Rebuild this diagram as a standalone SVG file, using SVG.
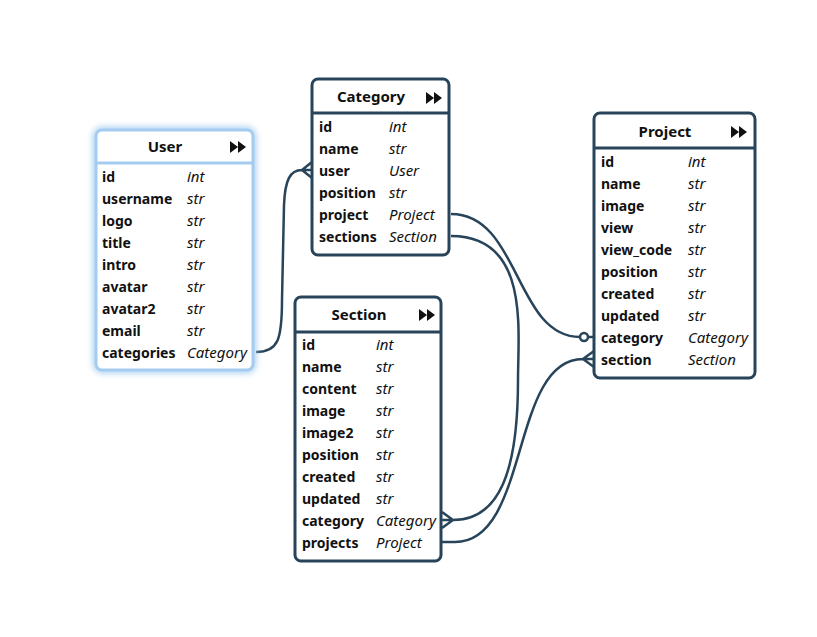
<svg xmlns="http://www.w3.org/2000/svg" width="817" height="637" viewBox="0 0 817 637">
<defs>
<style>
.box{fill:#ffffff;stroke:#27445a;stroke-width:3}
.sep{stroke:#27445a;stroke-width:3}
.sel{fill:#ffffff;stroke:#a3ccf0;stroke-width:3}
.selsep{stroke:#a3ccf0;stroke-width:3}
.title{font-family:"Noto Sans","Open Sans",sans-serif;font-size:15px;font-weight:bold;fill:#111111;text-anchor:middle}
.f{font-family:"Noto Sans","Open Sans",sans-serif;font-size:14px;font-weight:bold;fill:#111111}
.t{font-family:"Noto Sans","Open Sans",sans-serif;font-size:15px;font-style:italic;fill:#111111}
.icon{fill:#111111}
.conn{fill:none;stroke:#27445a;stroke-width:2.5}
</style>
<filter id="glow" x="-20%" y="-20%" width="140%" height="140%">
<feGaussianBlur stdDeviation="3"/>
</filter>
</defs>
<rect width="817" height="637" fill="#ffffff"/>

<g id="connectors">
<path class="conn" d="M256,352 C278,352 282,340 282,300 L284,205 C285,180 290,170 302,170 L312,170 M302,170 L312,162 M302,170 L312,178"/>
<path class="conn" d="M451,214 C520,214 515,337 580,337"/>
<circle cx="584" cy="337" r="4" fill="#ffffff" stroke="#27445a" stroke-width="2.5"/>
<path class="conn" d="M588,337 L594,337"/>
<path class="conn" d="M451,236 C530,236 518,330 518,380 C518,470 500,520 453,520 L442,520 M453,520 L442,512 M453,520 L442,528"/>
<path class="conn" d="M442,542 L455,542 C530,542 510,359 583,359 L594,359 M583,359 L594,351 M583,359 L594,367"/>
</g>

<g id="user">
<rect x="96" y="130" width="157" height="240" rx="6" fill="none" stroke="#a3ccf0" stroke-width="6" filter="url(#glow)"/>
<rect class="sel" x="96" y="130" width="157" height="240" rx="6"/>
<line class="selsep" x1="96" y1="163" x2="253" y2="163"/>
<text class="title" x="165" y="152">User</text>
<polygon class="icon" points="230,141 238,147 230,153"/>
<polygon class="icon" points="238,141 246,147 238,153"/>
<text class="f" x="102" y="182">id</text><text class="t" x="187" y="182">int</text>
<text class="f" x="102" y="204">username</text><text class="t" x="187" y="204">str</text>
<text class="f" x="102" y="226">logo</text><text class="t" x="187" y="226">str</text>
<text class="f" x="102" y="248">title</text><text class="t" x="187" y="248">str</text>
<text class="f" x="102" y="270">intro</text><text class="t" x="187" y="270">str</text>
<text class="f" x="102" y="292">avatar</text><text class="t" x="187" y="292">str</text>
<text class="f" x="102" y="314">avatar2</text><text class="t" x="187" y="314">str</text>
<text class="f" x="102" y="336">email</text><text class="t" x="187" y="336">str</text>
<text class="f" x="102" y="358">categories</text><text class="t" x="187" y="358">Category</text>
</g>

<g id="category">
<rect class="box" x="312" y="79" width="137" height="176" rx="6"/>
<line class="sep" x1="312" y1="113" x2="449" y2="113"/>
<text class="title" x="371" y="102">Category</text>
<polygon class="icon" points="426,92 434,98 426,104"/>
<polygon class="icon" points="434,92 442,98 434,104"/>
<text class="f" x="319" y="132">id</text><text class="t" x="389" y="132">int</text>
<text class="f" x="319" y="154">name</text><text class="t" x="389" y="154">str</text>
<text class="f" x="319" y="176">user</text><text class="t" x="389" y="176">User</text>
<text class="f" x="319" y="198">position</text><text class="t" x="389" y="198">str</text>
<text class="f" x="319" y="220">project</text><text class="t" x="389" y="220">Project</text>
<text class="f" x="319" y="242">sections</text><text class="t" x="389" y="242">Section</text>
</g>

<g id="project">
<rect class="box" x="594" y="113" width="161" height="265" rx="6"/>
<line class="sep" x1="594" y1="148" x2="755" y2="148"/>
<text class="title" x="665" y="137">Project</text>
<polygon class="icon" points="731,126 739,132 731,138"/>
<polygon class="icon" points="739,126 747,132 739,138"/>
<text class="f" x="601" y="167">id</text><text class="t" x="688" y="167">int</text>
<text class="f" x="601" y="189">name</text><text class="t" x="688" y="189">str</text>
<text class="f" x="601" y="211">image</text><text class="t" x="688" y="211">str</text>
<text class="f" x="601" y="233">view</text><text class="t" x="688" y="233">str</text>
<text class="f" x="601" y="255">view_code</text><text class="t" x="688" y="255">str</text>
<text class="f" x="601" y="277">position</text><text class="t" x="688" y="277">str</text>
<text class="f" x="601" y="299">created</text><text class="t" x="688" y="299">str</text>
<text class="f" x="601" y="321">updated</text><text class="t" x="688" y="321">str</text>
<text class="f" x="601" y="343">category</text><text class="t" x="688" y="343">Category</text>
<text class="f" x="601" y="365">section</text><text class="t" x="688" y="365">Section</text>
</g>

<g id="section">
<rect class="box" x="295" y="297" width="146" height="264" rx="6"/>
<line class="sep" x1="295" y1="332" x2="441" y2="332"/>
<text class="title" x="359" y="320">Section</text>
<polygon class="icon" points="419,309 427,315 419,321"/>
<polygon class="icon" points="427,309 435,315 427,321"/>
<text class="f" x="302" y="350">id</text><text class="t" x="376" y="350">int</text>
<text class="f" x="302" y="372">name</text><text class="t" x="376" y="372">str</text>
<text class="f" x="302" y="394">content</text><text class="t" x="376" y="394">str</text>
<text class="f" x="302" y="416">image</text><text class="t" x="376" y="416">str</text>
<text class="f" x="302" y="438">image2</text><text class="t" x="376" y="438">str</text>
<text class="f" x="302" y="460">position</text><text class="t" x="376" y="460">str</text>
<text class="f" x="302" y="482">created</text><text class="t" x="376" y="482">str</text>
<text class="f" x="302" y="504">updated</text><text class="t" x="376" y="504">str</text>
<text class="f" x="302" y="526">category</text><text class="t" x="376" y="526">Category</text>
<text class="f" x="302" y="548">projects</text><text class="t" x="376" y="548">Project</text>
</g>
</svg>
